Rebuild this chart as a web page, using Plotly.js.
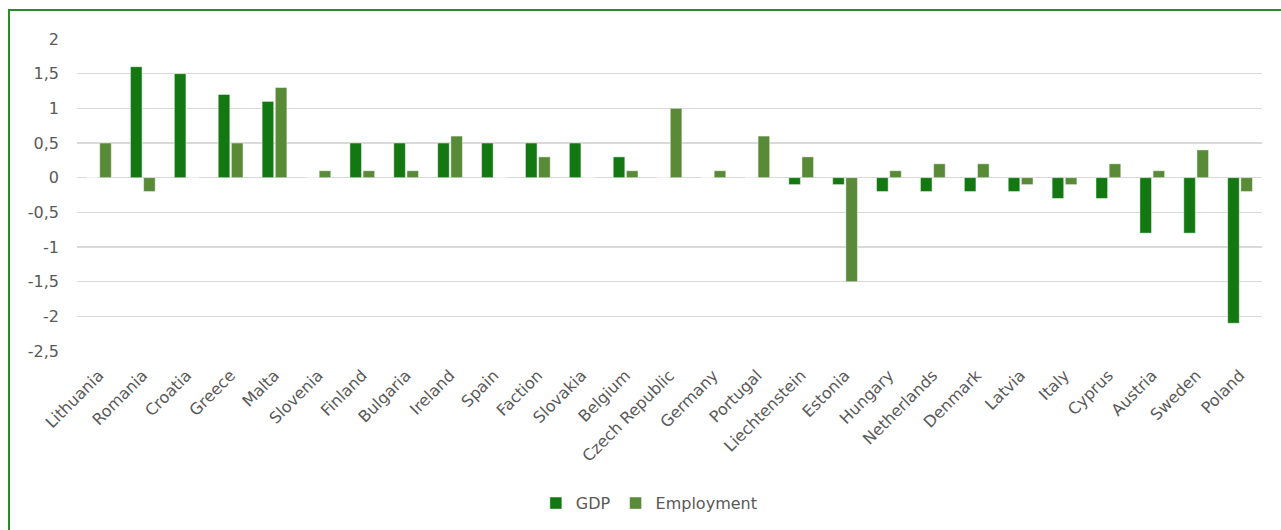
<!DOCTYPE html>
<html>
<head>
<meta charset="utf-8">
<script src="https://cdn.plot.ly/plotly-3.0.1.min.js"></script>
<style>
  html, body { margin: 0; padding: 0; background: #fff; overflow: hidden; }
  #wrap { position: relative; width: 1281px; height: 530px; }
  #chart { width: 1281px; height: 530px; }
  #frame { position: absolute; left: 8px; top: 9px; width: 1400px; height: 700px;
           border: 2px solid #2b8a2b; box-sizing: border-box; pointer-events: none; }
</style>
</head>
<body>
<div id="wrap">
  <div id="chart"></div>
  <div id="frame"></div>
</div>
<script>
const categories = ["Lithuania","Romania","Croatia","Greece","Malta","Slovenia","Finland","Bulgaria","Ireland","Spain","Faction","Slovakia","Belgium","Czech Republic","Germany","Portugal","Liechtenstein","Estonia","Hungary","Netherlands","Denmark","Latvia","Italy","Cyprus","Austria","Sweden","Poland"];
const gdp =        [0, 1.6, 1.5, 1.2, 1.1, 0, 0.5, 0.5, 0.5, 0.5, 0.5, 0.5, 0.3, 0, 0, 0, -0.1, -0.1, -0.2, -0.2, -0.2, -0.2, -0.3, -0.3, -0.8, -0.8, -2.1];
const employment = [0.5, -0.2, 0, 0.5, 1.3, 0.1, 0.1, 0.1, 0.6, 0, 0.3, 0, 0.1, 1.0, 0.1, 0.6, 0.3, -1.5, 0.1, 0.2, 0.2, -0.1, -0.1, 0.2, 0.1, 0.4, -0.2];
const yTicks = [2, 1.5, 1, 0.5, 0, -0.5, -1, -1.5, -2, -2.5];

const font = "DejaVu Sans, Verdana, sans-serif";
const traces = [
  { type: "bar", name: "GDP", x: categories, y: gdp,
    marker: { color: "#137812", line: { color: "rgba(255,255,255,0.45)", width: 1 } } },
  { type: "bar", name: "Employment", x: categories, y: employment,
    marker: { color: "#588a38", line: { color: "rgba(255,255,255,0.45)", width: 1 } } }
];
const layout = {
  width: 1281, height: 530,
  margin: { l: 77, r: 19, t: 39, b: 178 },
  paper_bgcolor: "#fff", plot_bgcolor: "#fff",
  separators: ",.",
  barmode: "group", bargap: 0.4, bargroupgap: 0.12,
  font: { family: font, color: "#595959", size: 14 },
  xaxis: { type: "category", tickangle: -45, showgrid: false, zeroline: false,
           showline: false, ticks: "", tickfont: { size: 16, color: "#595959" },
           ticklabelstandoff: 11, automargin: false },
  yaxis: { range: [-2.5, 2], tickvals: yTicks, ticktext: yTicks.map(v => String(v).replace(".", ",")),
           showgrid: true, gridcolor: "#d9d9d9", gridwidth: 1.5,
           zeroline: true, zerolinecolor: "#d9d9d9", zerolinewidth: 1.5,
           showline: false, ticks: "", ticklabelstandoff: 17,
           tickfont: { size: 16, color: "#595959" }, automargin: false },
  showlegend: true,
  legend: { orientation: "h", x: 0.483, xanchor: "center", y: -0.483, yanchor: "middle",
            font: { size: 16, color: "#595959" }, itemwidth: 30, traceorder: "normal" }
};
Plotly.newPlot("chart", traces, layout, { displayModeBar: false, staticPlot: true });
</script>
</body>
</html>
